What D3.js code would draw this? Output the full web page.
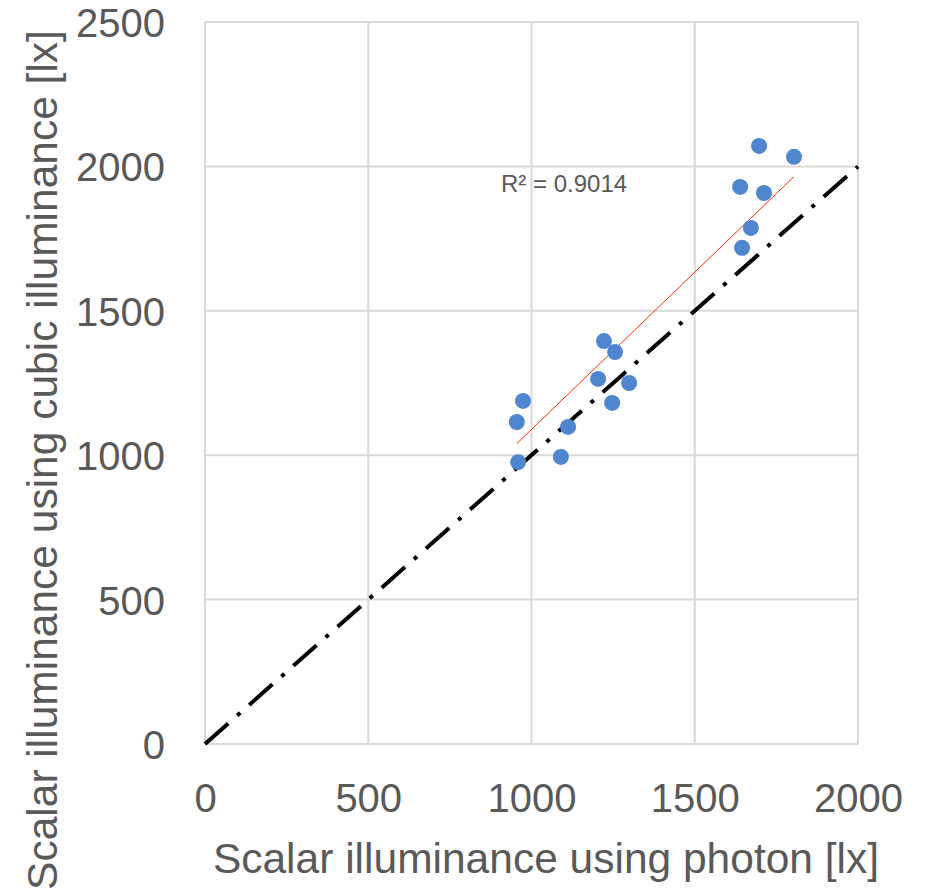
<!DOCTYPE html>
<html>
<head>
<meta charset="utf-8">
<script src="https://cdn.jsdelivr.net/npm/d3@7"></script>
<style>
  html, body { margin: 0; padding: 0; background: #fff; }
  svg { display: block; font-family: "Liberation Sans", Arial, sans-serif; }
</style>
</head>
<body>
<svg id="chart" width="930" height="890"></svg>
<script>
// Measured pairs: photon-based vs cubic-based scalar illuminance [lx]
const photonLx = [955, 974, 959, 1090, 1112, 1204, 1222, 1256, 1247, 1299, 1639, 1697, 1804, 1712, 1672, 1645];
const cubicLx  = [1115, 1188, 976, 994, 1098, 1264, 1395, 1357, 1181, 1250, 1929, 2071, 2033, 1908, 1787, 1718];
const xTicks = [0, 500, 1000, 1500, 2000];
const yTicks = [0, 500, 1000, 1500, 2000, 2500];
const r2Label = "R² = 0.9014";

const svg = d3.select("#chart");
const m = { left: 205, right: 858, top: 22, bottom: 744 };

const x = d3.scaleLinear().domain([0, 2000]).range([m.left, m.right]);
const y = d3.scaleLinear().domain([0, 2500]).range([m.bottom, m.top]);

const grid = svg.append("g");
grid.selectAll("line.v").data(xTicks).join("line")
  .attr("x1", d => x(d)).attr("x2", d => x(d))
  .attr("y1", m.top).attr("y2", m.bottom)
  .attr("stroke", "#d9d9d9").attr("stroke-width", 2);
grid.selectAll("line.h").data(yTicks).join("line")
  .attr("x1", m.left).attr("x2", m.right)
  .attr("y1", d => y(d)).attr("y2", d => y(d))
  .attr("stroke", "#d9d9d9").attr("stroke-width", 2);

// Axes drawn through d3-axis, with domain and tick marks hidden
const fmt = d3.format("d");
const xAxis = svg.append("g")
  .attr("transform", `translate(0,${m.bottom})`)
  .call(d3.axisBottom(x).tickValues(xTicks).tickFormat(fmt).tickSize(0));
const yAxis = svg.append("g")
  .attr("transform", `translate(${m.left},0)`)
  .call(d3.axisLeft(y).tickValues(yTicks).tickFormat(fmt).tickSize(0).tickPadding(40));
[xAxis, yAxis].forEach(a => {
  a.select(".domain").remove();
  a.selectAll("text")
    .attr("fill", "#595959")
    .style("font-size", "40px")
    .style("font-family", "Liberation Sans, Arial, sans-serif");
});
xAxis.selectAll("text").attr("y", 68).attr("dy", 0);
yAxis.selectAll("text").attr("dy", "0.36em");

// 1:1 reference line, dash-dot
svg.append("line")
  .attr("x1", x(0)).attr("y1", y(0))
  .attr("x2", x(2000)).attr("y2", y(2000))
  .attr("stroke", "#000").attr("stroke-width", 4)
  .attr("stroke-dasharray", "31 12 4 12");

// Linear trend through the origin (least squares, zero intercept)
const slope = d3.sum(photonLx, (v, i) => v * cubicLx[i]) / d3.sum(photonLx, v => v * v);
const [xMin, xMax] = d3.extent(photonLx);
svg.append("line")
  .attr("x1", x(xMin)).attr("y1", y(slope * xMin))
  .attr("x2", x(xMax)).attr("y2", y(slope * xMax))
  .attr("stroke", "#ff2a00").attr("stroke-width", 1);

// Data points
svg.append("g").selectAll("circle")
  .data(photonLx.map((v, i) => [v, cubicLx[i]]))
  .join("circle")
  .attr("cx", d => x(d[0])).attr("cy", d => y(d[1]))
  .attr("r", 8).attr("fill", "#4f86cd");

svg.append("text")
  .attr("x", 501).attr("y", 192)
  .attr("fill", "#595959").style("font-size", "24px")
  .text(r2Label);

// Axis titles
svg.append("text")
  .attr("x", 546).attr("y", 873)
  .attr("text-anchor", "middle")
  .attr("fill", "#595959").style("font-size", "42.5px")
  .text("Scalar illuminance using photon [lx]");
svg.append("text")
  .attr("transform", "translate(57,460) rotate(-90)")
  .attr("text-anchor", "middle")
  .attr("fill", "#595959").style("font-size", "42.5px")
  .text("Scalar illuminance using cubic illuminance [lx]");
</script>
</body>
</html>
